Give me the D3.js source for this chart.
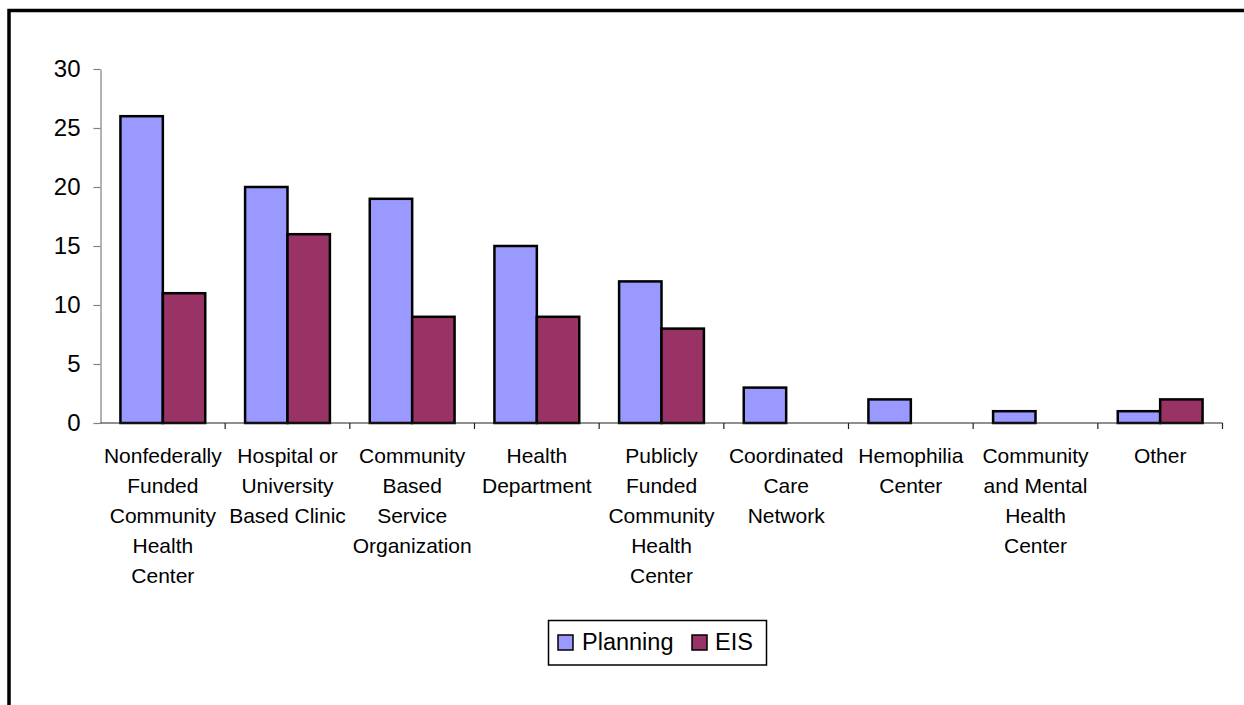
<!DOCTYPE html>
<html>
<head>
<meta charset="utf-8">
<script src="https://cdn.jsdelivr.net/npm/d3@7"></script>
<style>
  html, body { margin: 0; padding: 0; background: #fff; }
  svg { display: block; font-family: "Liberation Sans", Arial, sans-serif; }
</style>
</head>
<body>
<svg id="chart" width="1244" height="705"></svg>
<script>
// ---- data ----
const categories = [
  "Nonfederally Funded Community Health Center",
  "Hospital or University Based Clinic",
  "Community Based Service Organization",
  "Health Department",
  "Publicly Funded Community Health Center",
  "Coordinated Care Network",
  "Hemophilia Center",
  "Community and Mental Health Center",
  "Other"
];
const categoryLines = [
  ["Nonfederally", "Funded", "Community", "Health", "Center"],
  ["Hospital or", "University", "Based Clinic"],
  ["Community", "Based", "Service", "Organization"],
  ["Health", "Department"],
  ["Publicly", "Funded", "Community", "Health", "Center"],
  ["Coordinated", "Care", "Network"],
  ["Hemophilia", "Center"],
  ["Community", "and Mental", "Health", "Center"],
  ["Other"]
];
const seriesNames = ["Planning", "EIS"];
const planningValues = [26, 20, 19, 15, 12, 3, 2, 1, 1];
const eisValues = [11, 16, 9, 9, 8, 0, 0, 0, 2];
const seriesColors = ["#9999FF", "#993366"];
const yTicks = [0, 5, 10, 15, 20, 25, 30];

// ---- layout ----
const svg = d3.select("#chart");
const plotLeft = 100.5, plotRight = 1222.5, plotTop = 69, plotBottom = 423;

// outer frame (only top and left visible in the picture)
svg.append("rect")
  .attr("x", 9).attr("y", 10.5)
  .attr("width", 1400).attr("height", 900)
  .attr("fill", "none").attr("stroke", "#000").attr("stroke-width", 3.5);

const x0 = d3.scaleBand().domain(categories).range([plotLeft, plotRight]).padding(0);
const x1 = d3.scaleBand().domain(seriesNames).range([0, x0.bandwidth()])
  .paddingInner(0).paddingOuter(0.47);
const y = d3.scaleLinear().domain([0, 30]).range([plotBottom, plotTop]);

const rows = categories.map((c, i) => ({
  cat: c,
  vals: [
    { s: seriesNames[0], v: planningValues[i], color: seriesColors[0] },
    { s: seriesNames[1], v: eisValues[i], color: seriesColors[1] }
  ]
}));

// y axis
const yAxis = svg.append("g").attr("transform", `translate(${plotLeft},0)`)
  .call(d3.axisLeft(y).tickValues(yTicks).tickSize(7).tickPadding(13).tickSizeOuter(0));
yAxis.select(".domain").attr("stroke", "#808080").attr("stroke-width", 1.2);
yAxis.selectAll(".tick line").attr("stroke", "#808080").attr("stroke-width", 1.2);
yAxis.selectAll(".tick text")
  .attr("fill", "#000").style("font-size", "24px")
  .style("font-family", "'Liberation Sans', Arial, sans-serif");

// bars
const groups = svg.append("g").selectAll("g").data(rows).join("g")
  .attr("transform", d => `translate(${x0(d.cat)},0)`);
groups.selectAll("rect").data(d => d.vals.filter(v => v.v > 0)).join("rect")
  .attr("x", d => x1(d.s))
  .attr("y", d => y(d.v))
  .attr("width", x1.bandwidth())
  .attr("height", d => y(0) - y(d.v))
  .attr("fill", d => d.color)
  .attr("stroke", "#000")
  .attr("stroke-width", 2.5);

// x axis
const xAxisG = svg.append("g").attr("transform", `translate(0,${plotBottom})`);
xAxisG.append("line")
  .attr("x1", plotLeft).attr("x2", plotRight).attr("y1", 0).attr("y2", 0)
  .attr("stroke", "#222").attr("stroke-width", 1.2);
const bounds = categories.map(c => x0(c)).concat([x0(categories[categories.length - 1]) + x0.bandwidth()]);
xAxisG.selectAll("line.ctick").data(bounds.slice(1)).join("line")
  .attr("class", "ctick")
  .attr("x1", d => d).attr("x2", d => d).attr("y1", 0).attr("y2", 6)
  .attr("stroke", "#222").attr("stroke-width", 1.2);

// category labels
const labels = svg.append("g").selectAll("text").data(categories).join("text")
  .attr("text-anchor", "middle")
  .attr("font-size", "21px")
  .attr("fill", "#000")
  .attr("x", c => x0(c) + x0.bandwidth() / 2)
  .attr("y", 463);
labels.each(function(c, i) {
  const t = d3.select(this);
  categoryLines[i].forEach((ln, j) => {
    t.append("tspan")
      .attr("x", x0(c) + x0.bandwidth() / 2)
      .attr("y", 463 + j * 30)
      .text(ln);
  });
});

// legend
const lg = svg.append("g");
lg.append("rect")
  .attr("x", 548.5).attr("y", 620.5).attr("width", 218).attr("height", 44.5)
  .attr("fill", "#fff").attr("stroke", "#000").attr("stroke-width", 1.5);
const legendItems = [
  { name: seriesNames[0], color: seriesColors[0], sx: 558, tx: 582 },
  { name: seriesNames[1], color: seriesColors[1], sx: 692, tx: 715 }
];
legendItems.forEach(it => {
  lg.append("rect")
    .attr("x", it.sx).attr("y", 635).attr("width", 15).attr("height", 15)
    .attr("fill", it.color).attr("stroke", "#000").attr("stroke-width", 1.5);
  lg.append("text")
    .attr("x", it.tx).attr("y", 649.5)
    .attr("font-size", "23.5px").attr("fill", "#000")
    .text(it.name);
});
</script>
</body>
</html>
